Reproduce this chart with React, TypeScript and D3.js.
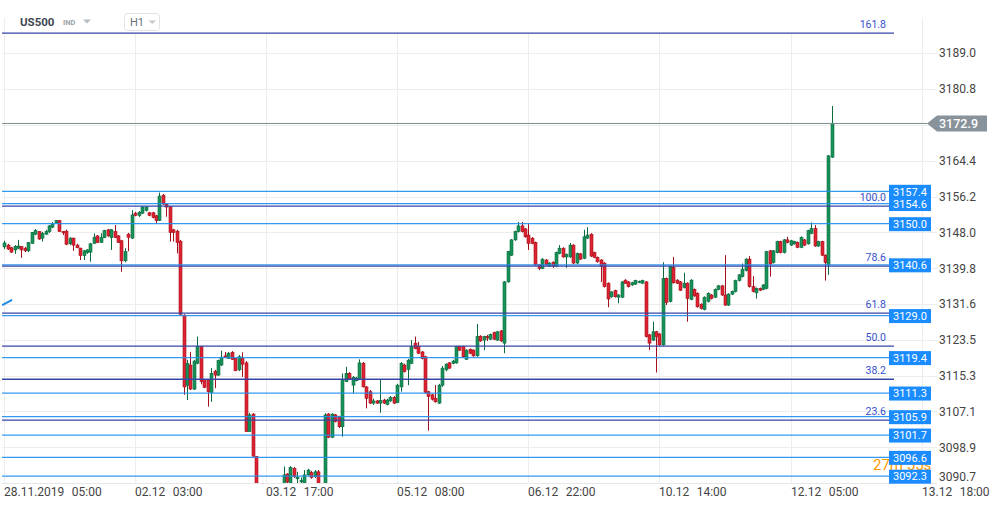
import React from 'react';
import * as d3 from 'd3';

const W = 999;
const H = 509;

// OHLC candles, H1, index 0 = 28.11.2019 05:00
const opens = [3144.7,3145.1,3144.5,3144.0,3144.4,3144.8,3144.4,3143.8,3145.5,3147.6,3148.2,3146.7,3147.6,3148.2,3149.2,3150.2,3150.7,3148.2,3148.3,3145.4,3146.7,3145.1,3144.4,3142.7,3143.4,3143.5,3145.5,3147.2,3145.7,3146.8,3148.6,3146.8,3148.2,3147.2,3146.1,3141.5,3147.6,3146.7,3152.4,3151.9,3152.4,3153.0,3152.5,3152.5,3151.8,3150.7,3156.5,3154.5,3153.9,3148.6,3148.3,3146.0,3129.1,3113.1,3117.7,3112.2,3118.1,3121.9,3114.4,3114.3,3111.4,3116.3,3115.4,3117.7,3119.8,3119.2,3120.6,3119.2,3116.6,3119.2,3118.2,3102.5,3106.5,3096.8,3089.2,3087.5,3086.0,3088.0,3086.8,3089.3,3088.0,3090.7,3092.8,3090.7,3094.1,3091.7,3091.0,3090.7,3092.6,3093.1,3092.2,3093.3,3089.6,3089.2,3106.5,3101.2,3106.3,3105.9,3103.6,3113.9,3115.8,3113.1,3114.1,3114.4,3118.1,3112.7,3111.6,3109.0,3109.5,3109.0,3109.7,3108.7,3109.5,3110.3,3109.1,3112.7,3117.7,3116.7,3118.1,3122.7,3121.9,3120.7,3119.6,3111.6,3110.9,3110.1,3109.0,3113.1,3116.6,3118.2,3118.1,3118.2,3121.9,3121.9,3119.0,3121.3,3121.1,3119.8,3124.3,3123.4,3124.2,3123.6,3125.1,3123.4,3125.5,3122.7,3136.7,3142.8,3146.3,3148.2,3149.5,3148.8,3147.4,3146.7,3145.7,3140.6,3139.8,3141.7,3140.3,3141.2,3140.3,3143.2,3144.4,3142.4,3142.4,3145.1,3141.0,3143.1,3142.1,3146.7,3147.6,3143.4,3142.3,3141.7,3141.0,3136.4,3133.3,3134.7,3133.2,3133.2,3137.1,3136.7,3136.0,3136.2,3136.7,3136.4,3136.7,3124.6,3123.4,3125.3,3124.8,3122.3,3137.5,3132.2,3140.0,3137.1,3136.7,3135.4,3136.4,3132.7,3135.0,3134.1,3131.6,3130.4,3132.2,3133.7,3133.2,3135.0,3135.8,3133.7,3131.4,3133.9,3134.5,3137.0,3137.9,3139.3,3141.9,3135.6,3134.2,3135.2,3135.0,3135.2,3143.8,3141.1,3143.4,3145.9,3143.4,3146.3,3145.1,3145.4,3145.7,3144.6,3146.3,3145.4,3147.8,3148.9,3144.9,3145.9,3142.8,3140.6,3165.2];
const highs = [3146.1,3145.4,3144.7,3145.1,3146.3,3144.9,3144.7,3145.8,3148.1,3148.8,3148.3,3148.1,3148.6,3149.7,3150.4,3150.8,3150.8,3148.3,3148.6,3146.9,3146.8,3145.4,3144.5,3144.0,3144.2,3145.6,3147.8,3147.4,3147.8,3148.6,3148.8,3148.8,3149.7,3147.4,3146.3,3144.4,3147.9,3153.1,3152.7,3152.9,3154.0,3154.0,3152.7,3152.7,3152.0,3157.1,3156.8,3154.7,3154.0,3148.8,3148.6,3146.3,3129.3,3118.9,3120.7,3118.9,3124.2,3122.0,3114.5,3114.5,3117.0,3116.6,3118.9,3121.0,3120.7,3120.7,3120.9,3119.3,3120.0,3120.6,3118.6,3106.8,3106.7,3096.9,3090.0,3089.0,3088.5,3089.5,3089.8,3090.2,3090.4,3094.5,3093.0,3094.6,3094.4,3093.3,3092.0,3093.7,3094.0,3093.5,3093.7,3093.7,3090.0,3106.7,3106.7,3106.7,3106.5,3106.1,3115.8,3117.3,3116.1,3115.2,3115.0,3119.0,3118.4,3112.9,3112.0,3110.0,3109.7,3114.3,3110.0,3110.0,3110.6,3110.6,3113.4,3118.4,3118.0,3119.1,3123.4,3124.2,3123.0,3120.9,3119.8,3111.8,3111.1,3113.1,3113.4,3117.5,3118.1,3118.4,3118.9,3122.1,3122.1,3122.1,3121.3,3121.5,3121.3,3127.1,3124.5,3124.4,3124.6,3124.9,3125.3,3125.5,3125.7,3136.9,3143.8,3146.5,3148.4,3150.4,3150.4,3149.0,3149.9,3146.9,3145.9,3140.8,3142.1,3141.9,3141.2,3141.4,3143.6,3145.1,3144.6,3143.2,3145.6,3145.3,3143.4,3143.3,3148.6,3149.2,3147.8,3143.6,3142.5,3141.9,3141.2,3136.6,3134.6,3134.9,3133.9,3136.9,3137.3,3136.9,3136.7,3137.2,3137.0,3137.2,3136.9,3124.8,3127.6,3125.5,3125.0,3141.2,3137.7,3140.4,3142.4,3137.3,3136.9,3138.8,3136.6,3137.3,3135.2,3134.3,3131.8,3133.4,3134.3,3133.9,3135.2,3136.0,3136.0,3142.8,3134.1,3134.7,3137.2,3138.5,3140.9,3142.1,3142.6,3138.0,3135.4,3135.4,3136.2,3143.8,3144.0,3144.0,3146.1,3146.1,3146.5,3147.0,3146.3,3146.1,3145.9,3147.1,3146.5,3148.6,3150.3,3149.7,3146.1,3146.1,3143.0,3165.7,3176.9];
const lows = [3144.2,3144.0,3143.3,3143.1,3144.2,3142.2,3143.5,3143.5,3145.4,3147.4,3146.3,3145.9,3147.4,3147.9,3149.0,3150.0,3148.1,3147.4,3145.1,3145.1,3143.8,3144.4,3141.7,3141.7,3143.1,3141.3,3145.4,3145.6,3145.6,3146.7,3147.0,3144.0,3146.7,3145.6,3139.0,3141.2,3143.7,3146.5,3151.7,3151.5,3152.2,3152.8,3151.7,3151.2,3150.1,3150.6,3154.3,3151.6,3145.9,3145.9,3143.2,3129.1,3110.9,3109.7,3112.0,3112.0,3117.9,3113.3,3112.4,3108.2,3109.3,3112.4,3115.2,3117.5,3119.3,3119.1,3118.9,3116.3,3116.3,3115.0,3102.4,3102.4,3096.7,3088.7,3086.5,3085.0,3084.5,3086.0,3086.0,3087.0,3087.5,3090.1,3090.5,3090.1,3091.9,3090.3,3090.0,3090.1,3092.4,3091.7,3091.9,3089.2,3087.8,3088.7,3101.0,3101.0,3104.6,3103.3,3101.3,3113.8,3114.3,3111.2,3114.0,3114.3,3112.6,3107.8,3108.8,3108.6,3108.8,3106.8,3108.8,3108.5,3109.3,3108.8,3109.0,3111.6,3116.0,3113.1,3117.9,3121.3,3120.2,3119.0,3111.2,3102.7,3109.6,3109.1,3108.8,3112.7,3116.3,3116.8,3117.9,3118.0,3120.9,3119.4,3118.9,3120.2,3119.6,3119.6,3123.0,3121.1,3123.2,3123.4,3123.4,3123.2,3123.0,3120.4,3136.5,3142.6,3146.1,3148.0,3148.0,3146.8,3144.0,3145.3,3140.4,3139.4,3139.6,3140.4,3140.1,3139.9,3140.1,3143.0,3142.2,3139.9,3142.2,3140.8,3140.8,3141.7,3141.9,3146.5,3142.4,3142.1,3141.1,3136.7,3135.4,3130.9,3133.1,3133.1,3131.8,3133.0,3136.2,3135.4,3135.8,3136.0,3136.4,3136.2,3124.0,3121.1,3123.2,3116.0,3122.1,3122.1,3131.4,3132.0,3136.3,3136.2,3134.6,3135.2,3127.6,3132.5,3133.3,3130.8,3130.4,3130.2,3132.0,3132.7,3133.0,3134.8,3133.5,3131.2,3131.2,3133.7,3134.3,3136.8,3137.7,3139.1,3135.4,3134.3,3132.9,3134.6,3134.8,3135.0,3137.9,3140.9,3143.2,3143.2,3143.2,3145.5,3144.9,3145.2,3144.4,3144.4,3144.9,3145.2,3147.6,3144.7,3144.7,3142.6,3137.0,3138.3,3165.0];
const closes = [3145.6,3144.2,3143.5,3144.8,3144.9,3144.0,3143.8,3145.7,3148.0,3148.4,3146.5,3147.8,3148.2,3149.5,3149.9,3150.7,3148.2,3147.9,3145.3,3146.7,3145.1,3144.5,3142.7,3143.8,3144.0,3145.4,3146.9,3145.7,3146.9,3148.4,3147.2,3148.6,3146.8,3145.7,3141.5,3143.6,3146.9,3152.0,3151.9,3152.6,3153.8,3153.8,3151.9,3151.4,3150.7,3156.3,3154.5,3153.8,3148.0,3148.0,3145.7,3129.3,3112.7,3118.1,3112.2,3118.6,3121.9,3113.9,3112.6,3111.6,3115.8,3115.4,3118.7,3119.5,3119.4,3120.4,3119.0,3116.4,3119.6,3117.9,3102.5,3106.3,3096.9,3089.2,3087.5,3086.0,3088.0,3086.8,3089.3,3088.0,3090.0,3092.6,3091.0,3094.3,3092.2,3092.1,3091.3,3092.6,3093.7,3092.0,3093.3,3089.6,3088.8,3106.3,3101.2,3106.5,3104.8,3103.6,3114.4,3115.8,3114.4,3114.9,3114.7,3118.2,3112.7,3110.1,3109.0,3109.5,3109.0,3109.6,3109.0,3109.7,3110.3,3109.0,3113.1,3118.1,3116.2,3118.8,3121.9,3121.5,3120.4,3119.2,3111.4,3110.5,3109.9,3109.3,3113.1,3117.0,3117.9,3117.0,3118.6,3121.9,3121.1,3119.6,3121.1,3120.4,3119.8,3124.2,3123.2,3124.2,3123.9,3124.7,3123.6,3125.3,3123.2,3136.7,3143.6,3146.3,3148.2,3149.5,3148.2,3147.0,3145.5,3145.5,3140.6,3139.8,3141.9,3140.6,3141.0,3140.3,3143.4,3144.4,3142.4,3143.0,3145.1,3141.0,3143.2,3141.9,3147.0,3147.4,3142.6,3142.3,3141.3,3140.2,3135.6,3132.8,3134.4,3133.3,3133.7,3136.7,3136.4,3135.6,3136.5,3137.0,3136.8,3137.0,3124.2,3122.7,3125.3,3124.2,3122.3,3137.5,3132.0,3140.2,3136.5,3136.4,3134.8,3136.4,3132.9,3137.1,3133.5,3131.0,3130.6,3133.2,3134.1,3132.9,3135.0,3135.8,3133.7,3131.4,3133.9,3134.5,3137.0,3138.3,3139.6,3141.9,3135.6,3134.5,3135.2,3134.8,3136.0,3143.6,3140.8,3143.8,3145.9,3143.4,3146.3,3145.7,3146.1,3145.9,3144.6,3146.9,3145.1,3148.4,3148.9,3144.9,3145.9,3142.8,3141.1,3165.5,3172.9];

// x axis ticks (candle index, label)
const xTickIdx = [0, 38, 76, 114, 152, 190, 228, 266];
const xTickDates = ['28.11.2019', '02.12', '03.12', '05.12', '06.12', '10.12', '12.12', '13.12'];
const xTickTimes = ['05:00', '03:00', '17:00', '08:00', '22:00', '14:00', '05:00', '18:00'];

// y axis ticks
const yTicks = [3189.0, 3180.8, 3172.6, 3164.4, 3156.2, 3148.0, 3139.8, 3131.6, 3123.5, 3115.3, 3107.1, 3098.9, 3090.7];

// horizontal level lines with labels
const levelPrices = [3157.4, 3154.6, 3150.0, 3140.6, 3129.0, 3119.4, 3111.3, 3105.9, 3101.7, 3096.6, 3092.3];

// fibonacci retracement
const fibLow = 3090.0;
const fibHigh = 3154.0;
const fibRatios = [161.8, 100.0, 78.6, 61.8, 50.0, 38.2, 23.6];

const lastPrice = 3172.9;
// small trend-line drawing at left edge: [idx0, price0, idx1, price1]
const trendLine = [-0.6, 3131.4, 2.3, 3132.6];

const FONT = "Roboto, 'Noto Sans', Arial, sans-serif";

export default function App() {
  const x = d3.scaleLinear().domain([0, 266]).range([4.2, 921.6]);
  const y = d3.scaleLinear().domain([3189.0, 3090.7]).range([53, 483.2]);

  const plotTop = 33;
  const plotBottom = 483;
  const priceY = y(lastPrice);

  const candles = opens.map((o, i) => {
    const c = closes[i];
    const hi = Math.max(highs[i], o, c);
    const lo = Math.min(lows[i], o, c);
    const up = c >= o;
    const cx = Math.round(x(i));
    const yTop = y(Math.max(o, c));
    const yBot = y(Math.min(o, c));
    const bh = Math.max(1, yBot - yTop);
    const fill = up ? '#17935a' : '#df2332';
    const stroke = up ? '#0c6a3e' : '#a3111d';
    return (
      <g key={i}>
        <line x1={cx + 0.5} x2={cx + 0.5} y1={y(hi)} y2={y(lo)} stroke={stroke} strokeWidth={1} />
        <rect x={cx - 1} y={yTop} width={3} height={bh} fill={fill} stroke={stroke} strokeWidth={0.6} />
      </g>
    );
  });

  const fibLevels = fibRatios.map((r) => ({ r, p: fibLow + (fibHigh - fibLow) * r / 100 }));

  return (
    <svg width={W} height={H} style={{ position: 'absolute', left: 0, top: 0, background: '#fff' }} fontFamily={FONT}>
      <defs>
        <clipPath id="plot">
          <rect x={2} y={plotTop} width={893} height={plotBottom - plotTop} />
        </clipPath>
      </defs>
      <rect x={0} y={0} width={W} height={H} fill="#fff" />

      {/* horizontal grid */}
      {yTicks.map((t, i) => (
        <line key={'hg' + i} x1={2} x2={937} y1={Math.round(y(t)) + 0.5} y2={Math.round(y(t)) + 0.5} stroke="#ededed" strokeWidth={1} />
      ))}
      {/* vertical grid */}
      {xTickIdx.map((t, i) => (
        <line key={'vg' + i} x1={Math.round(x(t)) + 0.5} x2={Math.round(x(t)) + 0.5} y1={i === 0 || i === xTickIdx.length - 1 ? 18 : plotTop} y2={plotBottom} stroke="#ededed" strokeWidth={1} />
      ))}
      <line x1={2} x2={937} y1={plotBottom + 0.5} y2={plotBottom + 0.5} stroke="#e6e6e6" />

      {/* candles */}
      <g clipPath="url(#plot)">{candles}</g>

      {/* trend drawing */}
      <line x1={Math.max(2, x(trendLine[0]))} y1={y(trendLine[1])} x2={x(trendLine[2])} y2={y(trendLine[3])} stroke="#1e88e5" strokeWidth={2} />

      {/* current price line */}
      <line x1={2} x2={927} y1={priceY} y2={priceY} stroke="#7d8b91" strokeWidth={1} />

      {/* level lines */}
      {levelPrices.map((p, i) => (
        <line key={'lv' + i} x1={2} x2={889} y1={y(p)} y2={y(p)} stroke="#1e8ff0" strokeWidth={1.3} opacity={0.9} />
      ))}

      {/* fib lines */}
      {fibLevels.map((f, i) => (
        <g key={'fib' + i}>
          <line x1={2} x2={894} y1={y(f.p)} y2={y(f.p)} stroke="#3646a8" strokeWidth={1.3} />
          <text x={886} y={y(f.p) - 5} textAnchor="end" fontSize={10.5} fill="#3550cc">{f.r.toFixed(1)}</text>
        </g>
      ))}

      {/* y axis labels (the one under the price tag is hidden, as in the reference) */}
      {yTicks.filter((t) => Math.abs(y(t) - priceY) > 10).map((t, i) => (
        <text key={'yl' + i} x={939} y={Math.min(y(t), 477)} dy="0.35em" fontSize={12} fill="#444">{t.toFixed(1)}</text>
      ))}

      {/* x axis labels */}
      {xTickIdx.map((t, i) => (
        <text key={'xl' + i} x={Math.round(x(t))} y={496} fontSize={12} fill="#444">
          {xTickDates[i]}
          <tspan dx={7.5}>{xTickTimes[i]}</tspan>
        </text>
      ))}

      {/* countdown text, partly behind the level boxes */}
      <text x={873} y={470} fontSize={15} fill="#ff9800">27m 55s</text>

      {/* level boxes */}
      {levelPrices.map((p, i) => (
        <g key={'lb' + i}>
          <rect x={889} y={y(p) - 6.5} width={42} height={14} fill="#1a8cff" />
          <text x={893} y={y(p) + 4.3} fontSize={11} fill="#fff">{p.toFixed(1)}</text>
        </g>
      ))}

      {/* current price label */}
      <path d={`M927,${priceY} L937,${priceY - 8} L987,${priceY - 8} L987,${priceY + 8} L937,${priceY + 8} Z`} fill="#87929a" />
      <text x={939} y={priceY} dy="0.36em" fontSize={12.5} fontWeight={500} fill="#fff">{lastPrice.toFixed(1)}</text>

      {/* header */}
      <text x={20} y={26} fontSize={11.5} fontWeight={700} fill="#3d4651">US500</text>
      <text x={63} y={25} fontSize={7.5} fontWeight={700} fill="#9aa3ab">IND</text>
      <path d="M83,19.5 L91,19.5 L87,23.5 Z" fill="#b5bcc2" />
      <rect x={124.5} y={13.5} width={35} height={17} rx={3} fill="#fff" stroke="#e1e4e7" />
      <text x={130} y={26} fontSize={11} fill="#66707a">H1</text>
      <path d="M148.5,20.5 L156,20.5 L152.25,24 Z" fill="#c3c8cd" />
    </svg>
  );
}
